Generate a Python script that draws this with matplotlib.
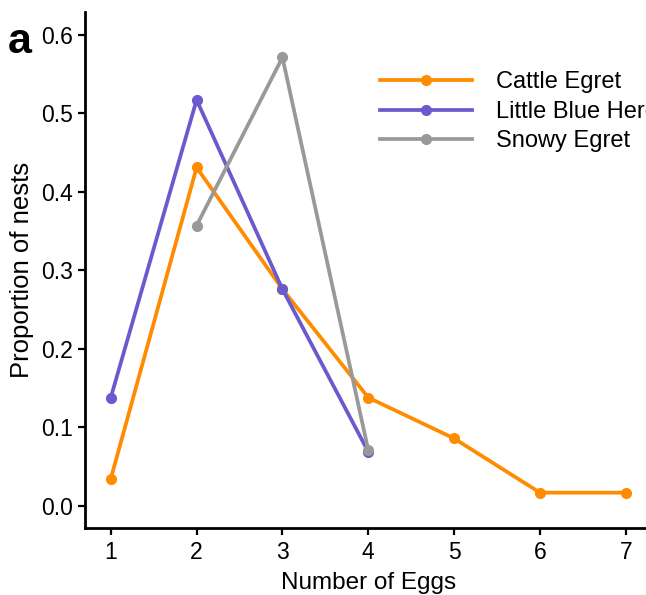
import numpy as np
import matplotlib.pyplot as plt

plt.rcParams['font.family'] = ['Liberation Sans', 'DejaVu Sans']

# proportions of nests by clutch size
eggs_cattle = [1, 2, 3, 4, 5, 6, 7]
cattle = [0.0345, 0.431, 0.276, 0.138, 0.086, 0.017, 0.017]
eggs_lbh = [1, 2, 3, 4]
lbh = [0.138, 0.517, 0.276, 0.069]
eggs_snowy = [2, 3, 4]
snowy = [0.357, 0.571, 0.071]

fig = plt.figure(figsize=(6.46, 5.95), dpi=100)
ax = fig.add_axes([0.1316, 0.1126, 0.877, 0.8674])

ax.plot(eggs_cattle, cattle, color='#FF8C00', lw=2.7, marker='o', ms=7, label='Cattle Egret')
ax.plot(eggs_lbh, lbh, color='#6A5ACD', lw=2.7, marker='o', ms=7, label='Little Blue Heron')
ax.plot(eggs_snowy, snowy, color='#999999', lw=2.7, marker='o', ms=7, label='Snowy Egret')

ax.set_xlim(0.7, 7.3)
ax.set_ylim(-0.028, 0.629)
ax.set_xticks(range(1, 8))
ax.set_yticks(np.arange(0, 0.61, 0.1))
ax.set_yticklabels(['0.0', '0.1', '0.2', '0.3', '0.4', '0.5', '0.6'])

for s in ['top', 'right']:
    ax.spines[s].set_visible(False)
for s in ['left', 'bottom']:
    ax.spines[s].set_linewidth(2.0)
ax.tick_params(direction='out', length=5, width=1.6, labelsize=16.5, pad=4)

ax.set_xlabel('Number of Eggs', fontsize=17.5, labelpad=6)
ax.set_ylabel('Proportion of nests', fontsize=18.5, labelpad=5)

ax.legend(loc='upper left', bbox_to_anchor=(0.52, 0.885), frameon=False,
          fontsize=17, handlelength=3.9, handletextpad=1.05, labelspacing=0.32,
          borderpad=0, borderaxespad=0)

fig.text(0.012, 0.911, 'a', fontsize=31, fontweight='bold')

fig.savefig('out.png', dpi=100)
